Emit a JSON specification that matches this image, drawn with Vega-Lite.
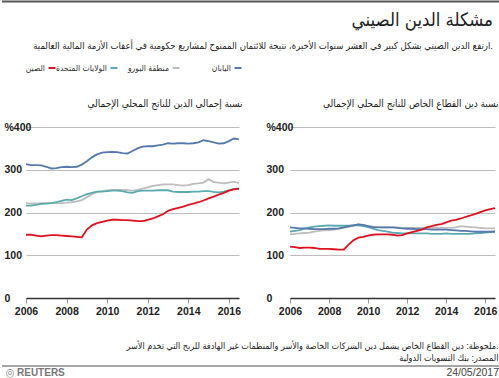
{
"$schema": "https://vega.github.io/schema/vega-lite/v6.json",
"padding": {"left": 0, "right": 0, "top": 0, "bottom": 0},
"background": "white",
"config": {
  "font": "Liberation Sans, DejaVu Sans Condensed, sans-serif",
  "view": {"stroke": null},
  "title": {"color": "#222", "fontWeight": "normal"},
  "axis": {"labelFont": "Liberation Sans, Arial, sans-serif", "labelFontWeight": "bold", "labelFontSize": 10.5, "labelColor": "#222"}
},
"datasets": {
"debt": [
{"p":"a","c":"eu","t":2006,"v":222},{"p":"a","c":"eu","t":2006.25,"v":221},{"p":"a","c":"eu","t":2006.5,"v":221},{"p":"a","c":"eu","t":2006.75,"v":222},
{"p":"a","c":"eu","t":2007,"v":222},{"p":"a","c":"eu","t":2007.25,"v":222},{"p":"a","c":"eu","t":2007.5,"v":222},{"p":"a","c":"eu","t":2007.75,"v":222},
{"p":"a","c":"eu","t":2008,"v":223},{"p":"a","c":"eu","t":2008.25,"v":224},{"p":"a","c":"eu","t":2008.5,"v":226},{"p":"a","c":"eu","t":2008.75,"v":229},
{"p":"a","c":"eu","t":2009,"v":236},{"p":"a","c":"eu","t":2009.25,"v":243},{"p":"a","c":"eu","t":2009.5,"v":248},{"p":"a","c":"eu","t":2009.75,"v":250},
{"p":"a","c":"eu","t":2010,"v":252},{"p":"a","c":"eu","t":2010.25,"v":253},{"p":"a","c":"eu","t":2010.5,"v":253},{"p":"a","c":"eu","t":2010.75,"v":253},
{"p":"a","c":"eu","t":2011,"v":252},{"p":"a","c":"eu","t":2011.25,"v":251},{"p":"a","c":"eu","t":2011.5,"v":253},{"p":"a","c":"eu","t":2011.75,"v":256},
{"p":"a","c":"eu","t":2012,"v":259},{"p":"a","c":"eu","t":2012.25,"v":262},{"p":"a","c":"eu","t":2012.5,"v":264},{"p":"a","c":"eu","t":2012.75,"v":266},
{"p":"a","c":"eu","t":2013,"v":266},{"p":"a","c":"eu","t":2013.25,"v":266},{"p":"a","c":"eu","t":2013.5,"v":264},{"p":"a","c":"eu","t":2013.75,"v":263},
{"p":"a","c":"eu","t":2014,"v":264},{"p":"a","c":"eu","t":2014.25,"v":267},{"p":"a","c":"eu","t":2014.5,"v":268},{"p":"a","c":"eu","t":2014.75,"v":270},
{"p":"a","c":"eu","t":2015,"v":278},{"p":"a","c":"eu","t":2015.25,"v":271},{"p":"a","c":"eu","t":2015.5,"v":270},{"p":"a","c":"eu","t":2015.75,"v":268},
{"p":"a","c":"eu","t":2016,"v":270},{"p":"a","c":"eu","t":2016.25,"v":272},{"p":"a","c":"eu","t":2016.5,"v":269},
{"p":"a","c":"us","t":2006,"v":216},{"p":"a","c":"us","t":2006.25,"v":216},{"p":"a","c":"us","t":2006.5,"v":218},{"p":"a","c":"us","t":2006.75,"v":220},
{"p":"a","c":"us","t":2007,"v":221},{"p":"a","c":"us","t":2007.25,"v":222},{"p":"a","c":"us","t":2007.5,"v":224},{"p":"a","c":"us","t":2007.75,"v":227},
{"p":"a","c":"us","t":2008,"v":230},{"p":"a","c":"us","t":2008.25,"v":229},{"p":"a","c":"us","t":2008.5,"v":233},{"p":"a","c":"us","t":2008.75,"v":238},
{"p":"a","c":"us","t":2009,"v":243},{"p":"a","c":"us","t":2009.25,"v":246},{"p":"a","c":"us","t":2009.5,"v":249},{"p":"a","c":"us","t":2009.75,"v":249},
{"p":"a","c":"us","t":2010,"v":250},{"p":"a","c":"us","t":2010.25,"v":251},{"p":"a","c":"us","t":2010.5,"v":251},{"p":"a","c":"us","t":2010.75,"v":250},
{"p":"a","c":"us","t":2011,"v":247},{"p":"a","c":"us","t":2011.25,"v":246},{"p":"a","c":"us","t":2011.5,"v":250},{"p":"a","c":"us","t":2011.75,"v":251},
{"p":"a","c":"us","t":2012,"v":251},{"p":"a","c":"us","t":2012.25,"v":251},{"p":"a","c":"us","t":2012.5,"v":252},{"p":"a","c":"us","t":2012.75,"v":252},
{"p":"a","c":"us","t":2013,"v":252},{"p":"a","c":"us","t":2013.25,"v":249},{"p":"a","c":"us","t":2013.5,"v":248},{"p":"a","c":"us","t":2013.75,"v":248},
{"p":"a","c":"us","t":2014,"v":248},{"p":"a","c":"us","t":2014.25,"v":249},{"p":"a","c":"us","t":2014.5,"v":249},{"p":"a","c":"us","t":2014.75,"v":250},
{"p":"a","c":"us","t":2015,"v":250},{"p":"a","c":"us","t":2015.25,"v":248},{"p":"a","c":"us","t":2015.5,"v":247},{"p":"a","c":"us","t":2015.75,"v":249},
{"p":"a","c":"us","t":2016,"v":252},{"p":"a","c":"us","t":2016.25,"v":255},{"p":"a","c":"us","t":2016.5,"v":256},
{"p":"a","c":"jp","t":2006,"v":313},{"p":"a","c":"jp","t":2006.25,"v":311},{"p":"a","c":"jp","t":2006.5,"v":311},{"p":"a","c":"jp","t":2006.75,"v":310},
{"p":"a","c":"jp","t":2007,"v":307},{"p":"a","c":"jp","t":2007.25,"v":303},{"p":"a","c":"jp","t":2007.5,"v":304},{"p":"a","c":"jp","t":2007.75,"v":306},
{"p":"a","c":"jp","t":2008,"v":307},{"p":"a","c":"jp","t":2008.25,"v":306},{"p":"a","c":"jp","t":2008.5,"v":307},{"p":"a","c":"jp","t":2008.75,"v":312},
{"p":"a","c":"jp","t":2009,"v":320},{"p":"a","c":"jp","t":2009.25,"v":329},{"p":"a","c":"jp","t":2009.5,"v":336},{"p":"a","c":"jp","t":2009.75,"v":340},
{"p":"a","c":"jp","t":2010,"v":341},{"p":"a","c":"jp","t":2010.25,"v":342},{"p":"a","c":"jp","t":2010.5,"v":341},{"p":"a","c":"jp","t":2010.75,"v":339},
{"p":"a","c":"jp","t":2011,"v":338},{"p":"a","c":"jp","t":2011.25,"v":344},{"p":"a","c":"jp","t":2011.5,"v":350},{"p":"a","c":"jp","t":2011.75,"v":354},
{"p":"a","c":"jp","t":2012,"v":355},{"p":"a","c":"jp","t":2012.25,"v":355},{"p":"a","c":"jp","t":2012.5,"v":357},{"p":"a","c":"jp","t":2012.75,"v":359},
{"p":"a","c":"jp","t":2013,"v":362},{"p":"a","c":"jp","t":2013.25,"v":361},{"p":"a","c":"jp","t":2013.5,"v":362},{"p":"a","c":"jp","t":2013.75,"v":362},
{"p":"a","c":"jp","t":2014,"v":361},{"p":"a","c":"jp","t":2014.25,"v":362},{"p":"a","c":"jp","t":2014.5,"v":364},{"p":"a","c":"jp","t":2014.75,"v":369},
{"p":"a","c":"jp","t":2015,"v":367},{"p":"a","c":"jp","t":2015.25,"v":364},{"p":"a","c":"jp","t":2015.5,"v":361},{"p":"a","c":"jp","t":2015.75,"v":362},
{"p":"a","c":"jp","t":2016,"v":367},{"p":"a","c":"jp","t":2016.25,"v":373},{"p":"a","c":"jp","t":2016.5,"v":371},
{"p":"a","c":"cn","t":2006,"v":148},{"p":"a","c":"cn","t":2006.25,"v":148},{"p":"a","c":"cn","t":2006.5,"v":146},{"p":"a","c":"cn","t":2006.75,"v":144},
{"p":"a","c":"cn","t":2007,"v":146},{"p":"a","c":"cn","t":2007.25,"v":147},{"p":"a","c":"cn","t":2007.5,"v":147},{"p":"a","c":"cn","t":2007.75,"v":146},
{"p":"a","c":"cn","t":2008,"v":145},{"p":"a","c":"cn","t":2008.25,"v":144},{"p":"a","c":"cn","t":2008.5,"v":143},{"p":"a","c":"cn","t":2008.75,"v":142},
{"p":"a","c":"cn","t":2009,"v":160},{"p":"a","c":"cn","t":2009.25,"v":170},{"p":"a","c":"cn","t":2009.5,"v":175},{"p":"a","c":"cn","t":2009.75,"v":178},
{"p":"a","c":"cn","t":2010,"v":181},{"p":"a","c":"cn","t":2010.25,"v":183},{"p":"a","c":"cn","t":2010.5,"v":183},{"p":"a","c":"cn","t":2010.75,"v":182},
{"p":"a","c":"cn","t":2011,"v":182},{"p":"a","c":"cn","t":2011.25,"v":181},{"p":"a","c":"cn","t":2011.5,"v":180},{"p":"a","c":"cn","t":2011.75,"v":180},
{"p":"a","c":"cn","t":2012,"v":183},{"p":"a","c":"cn","t":2012.25,"v":186},{"p":"a","c":"cn","t":2012.5,"v":191},{"p":"a","c":"cn","t":2012.75,"v":196},
{"p":"a","c":"cn","t":2013,"v":204},{"p":"a","c":"cn","t":2013.25,"v":208},{"p":"a","c":"cn","t":2013.5,"v":211},{"p":"a","c":"cn","t":2013.75,"v":214},
{"p":"a","c":"cn","t":2014,"v":218},{"p":"a","c":"cn","t":2014.25,"v":221},{"p":"a","c":"cn","t":2014.5,"v":224},{"p":"a","c":"cn","t":2014.75,"v":228},
{"p":"a","c":"cn","t":2015,"v":233},{"p":"a","c":"cn","t":2015.25,"v":237},{"p":"a","c":"cn","t":2015.5,"v":242},{"p":"a","c":"cn","t":2015.75,"v":246},
{"p":"a","c":"cn","t":2016,"v":251},{"p":"a","c":"cn","t":2016.25,"v":254},{"p":"a","c":"cn","t":2016.5,"v":256},
{"p":"b","c":"eu","t":2006,"v":149},{"p":"b","c":"eu","t":2006.25,"v":150},{"p":"b","c":"eu","t":2006.5,"v":151},{"p":"b","c":"eu","t":2006.75,"v":152},
{"p":"b","c":"eu","t":2007,"v":153},{"p":"b","c":"eu","t":2007.25,"v":155},{"p":"b","c":"eu","t":2007.5,"v":157},{"p":"b","c":"eu","t":2007.75,"v":158},
{"p":"b","c":"eu","t":2008,"v":159},{"p":"b","c":"eu","t":2008.25,"v":160},{"p":"b","c":"eu","t":2008.5,"v":162},{"p":"b","c":"eu","t":2008.75,"v":164},
{"p":"b","c":"eu","t":2009,"v":166},{"p":"b","c":"eu","t":2009.25,"v":169},{"p":"b","c":"eu","t":2009.5,"v":172},{"p":"b","c":"eu","t":2009.75,"v":170},
{"p":"b","c":"eu","t":2010,"v":168},{"p":"b","c":"eu","t":2010.25,"v":167},{"p":"b","c":"eu","t":2010.5,"v":166},{"p":"b","c":"eu","t":2010.75,"v":165},
{"p":"b","c":"eu","t":2011,"v":165},{"p":"b","c":"eu","t":2011.25,"v":165},{"p":"b","c":"eu","t":2011.5,"v":165},{"p":"b","c":"eu","t":2011.75,"v":164},
{"p":"b","c":"eu","t":2012,"v":164},{"p":"b","c":"eu","t":2012.25,"v":164},{"p":"b","c":"eu","t":2012.5,"v":164},{"p":"b","c":"eu","t":2012.75,"v":164},
{"p":"b","c":"eu","t":2013,"v":164},{"p":"b","c":"eu","t":2013.25,"v":164},{"p":"b","c":"eu","t":2013.5,"v":164},{"p":"b","c":"eu","t":2013.75,"v":164},
{"p":"b","c":"eu","t":2014,"v":164},{"p":"b","c":"eu","t":2014.25,"v":164},{"p":"b","c":"eu","t":2014.5,"v":165},{"p":"b","c":"eu","t":2014.75,"v":168},
{"p":"b","c":"eu","t":2015,"v":167},{"p":"b","c":"eu","t":2015.25,"v":166},{"p":"b","c":"eu","t":2015.5,"v":165},{"p":"b","c":"eu","t":2015.75,"v":164},
{"p":"b","c":"eu","t":2016,"v":163},{"p":"b","c":"eu","t":2016.25,"v":163},{"p":"b","c":"eu","t":2016.5,"v":163},
{"p":"b","c":"us","t":2006,"v":155},{"p":"b","c":"us","t":2006.25,"v":157},{"p":"b","c":"us","t":2006.5,"v":159},{"p":"b","c":"us","t":2006.75,"v":162},
{"p":"b","c":"us","t":2007,"v":165},{"p":"b","c":"us","t":2007.25,"v":167},{"p":"b","c":"us","t":2007.5,"v":168},{"p":"b","c":"us","t":2007.75,"v":169},
{"p":"b","c":"us","t":2008,"v":170},{"p":"b","c":"us","t":2008.25,"v":169},{"p":"b","c":"us","t":2008.5,"v":169},{"p":"b","c":"us","t":2008.75,"v":169},
{"p":"b","c":"us","t":2009,"v":169},{"p":"b","c":"us","t":2009.25,"v":170},{"p":"b","c":"us","t":2009.5,"v":170},{"p":"b","c":"us","t":2009.75,"v":168},
{"p":"b","c":"us","t":2010,"v":166},{"p":"b","c":"us","t":2010.25,"v":162},{"p":"b","c":"us","t":2010.5,"v":159},{"p":"b","c":"us","t":2010.75,"v":157},
{"p":"b","c":"us","t":2011,"v":155},{"p":"b","c":"us","t":2011.25,"v":153},{"p":"b","c":"us","t":2011.5,"v":152},{"p":"b","c":"us","t":2011.75,"v":151},
{"p":"b","c":"us","t":2012,"v":151},{"p":"b","c":"us","t":2012.25,"v":151},{"p":"b","c":"us","t":2012.5,"v":151},{"p":"b","c":"us","t":2012.75,"v":151},
{"p":"b","c":"us","t":2013,"v":151},{"p":"b","c":"us","t":2013.25,"v":150},{"p":"b","c":"us","t":2013.5,"v":150},{"p":"b","c":"us","t":2013.75,"v":150},
{"p":"b","c":"us","t":2014,"v":151},{"p":"b","c":"us","t":2014.25,"v":150},{"p":"b","c":"us","t":2014.5,"v":150},{"p":"b","c":"us","t":2014.75,"v":150},
{"p":"b","c":"us","t":2015,"v":150},{"p":"b","c":"us","t":2015.25,"v":150},{"p":"b","c":"us","t":2015.5,"v":151},{"p":"b","c":"us","t":2015.75,"v":152},
{"p":"b","c":"us","t":2016,"v":153},{"p":"b","c":"us","t":2016.25,"v":154},{"p":"b","c":"us","t":2016.5,"v":155},
{"p":"b","c":"jp","t":2006,"v":165},{"p":"b","c":"jp","t":2006.25,"v":164},{"p":"b","c":"jp","t":2006.5,"v":163},{"p":"b","c":"jp","t":2006.75,"v":163},
{"p":"b","c":"jp","t":2007,"v":162},{"p":"b","c":"jp","t":2007.25,"v":161},{"p":"b","c":"jp","t":2007.5,"v":161},{"p":"b","c":"jp","t":2007.75,"v":161},
{"p":"b","c":"jp","t":2008,"v":162},{"p":"b","c":"jp","t":2008.25,"v":162},{"p":"b","c":"jp","t":2008.5,"v":163},{"p":"b","c":"jp","t":2008.75,"v":165},
{"p":"b","c":"jp","t":2009,"v":168},{"p":"b","c":"jp","t":2009.25,"v":170},{"p":"b","c":"jp","t":2009.5,"v":172},{"p":"b","c":"jp","t":2009.75,"v":171},
{"p":"b","c":"jp","t":2010,"v":168},{"p":"b","c":"jp","t":2010.25,"v":166},{"p":"b","c":"jp","t":2010.5,"v":165},{"p":"b","c":"jp","t":2010.75,"v":165},
{"p":"b","c":"jp","t":2011,"v":165},{"p":"b","c":"jp","t":2011.25,"v":165},{"p":"b","c":"jp","t":2011.5,"v":164},{"p":"b","c":"jp","t":2011.75,"v":163},
{"p":"b","c":"jp","t":2012,"v":162},{"p":"b","c":"jp","t":2012.25,"v":162},{"p":"b","c":"jp","t":2012.5,"v":161},{"p":"b","c":"jp","t":2012.75,"v":161},
{"p":"b","c":"jp","t":2013,"v":161},{"p":"b","c":"jp","t":2013.25,"v":160},{"p":"b","c":"jp","t":2013.5,"v":160},{"p":"b","c":"jp","t":2013.75,"v":160},
{"p":"b","c":"jp","t":2014,"v":160},{"p":"b","c":"jp","t":2014.25,"v":159},{"p":"b","c":"jp","t":2014.5,"v":158},{"p":"b","c":"jp","t":2014.75,"v":157},
{"p":"b","c":"jp","t":2015,"v":157},{"p":"b","c":"jp","t":2015.25,"v":156},{"p":"b","c":"jp","t":2015.5,"v":155},{"p":"b","c":"jp","t":2015.75,"v":155},
{"p":"b","c":"jp","t":2016,"v":155},{"p":"b","c":"jp","t":2016.25,"v":155},{"p":"b","c":"jp","t":2016.5,"v":156},
{"p":"b","c":"cn","t":2006,"v":120},{"p":"b","c":"cn","t":2006.25,"v":119},{"p":"b","c":"cn","t":2006.5,"v":117},{"p":"b","c":"cn","t":2006.75,"v":118},
{"p":"b","c":"cn","t":2007,"v":118},{"p":"b","c":"cn","t":2007.25,"v":117},{"p":"b","c":"cn","t":2007.5,"v":115},{"p":"b","c":"cn","t":2007.75,"v":115},
{"p":"b","c":"cn","t":2008,"v":115},{"p":"b","c":"cn","t":2008.25,"v":114},{"p":"b","c":"cn","t":2008.5,"v":113},{"p":"b","c":"cn","t":2008.75,"v":113},
{"p":"b","c":"cn","t":2009,"v":125},{"p":"b","c":"cn","t":2009.25,"v":135},{"p":"b","c":"cn","t":2009.5,"v":141},{"p":"b","c":"cn","t":2009.75,"v":143},
{"p":"b","c":"cn","t":2010,"v":146},{"p":"b","c":"cn","t":2010.25,"v":148},{"p":"b","c":"cn","t":2010.5,"v":149},{"p":"b","c":"cn","t":2010.75,"v":149},
{"p":"b","c":"cn","t":2011,"v":149},{"p":"b","c":"cn","t":2011.25,"v":148},{"p":"b","c":"cn","t":2011.5,"v":146},{"p":"b","c":"cn","t":2011.75,"v":147},
{"p":"b","c":"cn","t":2012,"v":151},{"p":"b","c":"cn","t":2012.25,"v":154},{"p":"b","c":"cn","t":2012.5,"v":157},{"p":"b","c":"cn","t":2012.75,"v":160},
{"p":"b","c":"cn","t":2013,"v":165},{"p":"b","c":"cn","t":2013.25,"v":168},{"p":"b","c":"cn","t":2013.5,"v":171},{"p":"b","c":"cn","t":2013.75,"v":173},
{"p":"b","c":"cn","t":2014,"v":177},{"p":"b","c":"cn","t":2014.25,"v":181},{"p":"b","c":"cn","t":2014.5,"v":183},{"p":"b","c":"cn","t":2014.75,"v":186},
{"p":"b","c":"cn","t":2015,"v":190},{"p":"b","c":"cn","t":2015.25,"v":193},{"p":"b","c":"cn","t":2015.5,"v":197},{"p":"b","c":"cn","t":2015.75,"v":201},
{"p":"b","c":"cn","t":2016,"v":205},{"p":"b","c":"cn","t":2016.25,"v":208},{"p":"b","c":"cn","t":2016.5,"v":210}
]
},
"spacing": 8,
"vconcat": [
  {
    "width": 475, "height": 1,
    "data": {"values": [{"k": 0}]},
    "mark": {"type": "rule", "color": "#555", "strokeWidth": 2},
    "encoding": {
      "x": {"datum": 0, "type": "quantitative", "scale": {"domain": [0.0481, 1], "clamp": false, "zero": false, "nice": false}, "axis": null},
      "x2": {"datum": 1},
      "y": {"datum": 0.5, "type": "quantitative", "scale": {"domain": [0, 1]}, "axis": null}
    }
  },
  {
    "spacing": 25,
    "vconcat": [
      {
        "spacing": 26,
        "vconcat": [
          {
            "width": 475, "height": 8,
            "title": {"text": "مشكلة الدين الصيني", "subtitle": "ارتفع الدين الصيني بشكل كبير في العشر سنوات الأخيرة، نتيجة للائتمان الممنوح لمشاريع حكومية في أعقاب الأزمة المالية العالمية.", "anchor": "end", "dx": -8, "fontSize": 18.5, "subtitleFontSize": 9.5, "subtitleColor": "#222", "subtitlePadding": 11, "offset": 14},
            "data": {"values": [{"c": "cn", "n": "الصين"}, {"c": "us", "n": "الولايات المتحدة"}, {"c": "eu", "n": "منطقة اليورو"}, {"c": "jp", "n": "اليابان"}]},
            "encoding": {
              "x": {"field": "c", "type": "nominal", "sort": null, "scale": {"type": "point", "domain": ["cn", "us", "eu", "jp"], "range": [26, 212], "padding": 0}, "axis": null},
              "color": {"field": "c", "type": "nominal", "scale": {"domain": ["cn", "us", "eu", "jp"], "range": ["#e3101f", "#5aabb0", "#bdbdbd", "#5679ad"]}, "legend": null}
            },
            "layer": [
              {"mark": {"type": "point", "shape": "stroke", "size": 49, "strokeWidth": 2, "filled": false, "opacity": 1}},
              {"mark": {"type": "text", "align": "right", "dx": -7, "fontSize": 8.5}, "encoding": {"text": {"field": "n", "type": "nominal"}, "color": {"value": "#333"}}}
            ]
          },
          {
            "spacing": 23,
            "hconcat": [
              {
                "width": 213, "height": 171,
                "title": {"text": "نسبة إجمالي الدين للناتج المحلي الإجمالي", "anchor": "end", "fontSize": 10, "offset": 13},
                "data": {"name": "debt"},
                "transform": [{"filter": "datum.p == 'a'"}],
                "mark": {"type": "line", "strokeWidth": 1.8},
                "encoding": {
                  "x": {"field": "t", "type": "quantitative", "scale": {"domain": [2006, 2016.5], "nice": false, "zero": false},
                        "axis": {"values": [2006, 2008, 2010, 2012, 2014, 2016], "format": "d", "title": null, "grid": false, "domainColor": "#333", "domainWidth": 1.5, "tickColor": "#999", "tickSize": 5, "labelPadding": 3, "labelFlush": false}},
                  "y": {"field": "v", "type": "quantitative", "scale": {"domain": [0, 400]},
                        "axis": {"values": [0, 100, 200, 300, 400], "labelExpr": "datum.value == 400 ? '%400' : datum.label", "title": null, "domain": false, "ticks": false, "tickSize": 0, "labelAlign": "left", "labelPadding": 22, "grid": true, "gridColor": "#bdbdbd", "labelBaseline": "middle"}},
                  "color": {"field": "c", "type": "nominal", "scale": {"domain": ["cn", "us", "eu", "jp"], "range": ["#e3101f", "#5aabb0", "#bdbdbd", "#5679ad"]}, "legend": null}
                }
              },
              {
                "width": 205, "height": 171,
                "title": {"text": "نسبة دين القطاع الخاص للناتج المحلي الإجمالي", "anchor": "end", "fontSize": 10, "offset": 13},
                "data": {"name": "debt"},
                "transform": [{"filter": "datum.p == 'b'"}],
                "mark": {"type": "line", "strokeWidth": 1.8},
                "encoding": {
                  "x": {"field": "t", "type": "quantitative", "scale": {"domain": [2006, 2016.5], "nice": false, "zero": false},
                        "axis": {"values": [2006, 2008, 2010, 2012, 2014, 2016], "format": "d", "title": null, "grid": false, "domainColor": "#333", "domainWidth": 1.5, "tickColor": "#999", "tickSize": 5, "labelPadding": 3, "labelFlush": false}},
                  "y": {"field": "v", "type": "quantitative", "scale": {"domain": [0, 400]},
                        "axis": {"values": [0, 100, 200, 300, 400], "labelExpr": "datum.value == 400 ? '%400' : datum.label", "title": null, "domain": false, "ticks": false, "tickSize": 0, "labelAlign": "left", "labelPadding": 24, "grid": true, "gridColor": "#bdbdbd", "labelBaseline": "middle"}},
                  "color": {"field": "c", "type": "nominal", "scale": {"domain": ["cn", "us", "eu", "jp"], "range": ["#e3101f", "#5aabb0", "#bdbdbd", "#5679ad"]}, "legend": null}
                }
              }
            ]
          }
        ]
      },
      {
        "width": 475, "height": 13,
        "title": {"text": ["ملحوظة: دين القطاع الخاص يشمل دين الشركات الخاصة والأسر والمنظمات غير الهادفة للربح التي تخدم الأسر.", "المصدر:  بنك التسويات الدولية"], "anchor": "end", "frame": "bounds", "dx": -3, "fontSize": 9, "lineHeight": 11.5, "offset": 3, "color": "#222"},
        "data": {"values": [{"pos": 0, "label": "REUTERS"}, {"pos": 1, "label": "24/05/2017"}]},
        "layer": [
          {
            "mark": {"type": "rule", "color": "#888", "strokeWidth": 1},
            "encoding": {
              "x": {"datum": 0, "type": "quantitative", "scale": {"domain": [0.0481, 1], "clamp": false, "zero": false, "nice": false}, "axis": null},
              "x2": {"datum": 1},
              "y": {"datum": 1, "type": "quantitative", "scale": {"domain": [0, 1]}, "axis": null}
            }
          },
          {
            "transform": [{"filter": "datum.pos == 0"}],
            "mark": {"type": "text", "align": "center", "dx": 8, "fontSize": 11, "color": "#888"},
            "encoding": {
              "x": {"field": "pos", "type": "quantitative"},
              "y": {"datum": 0.5, "type": "quantitative"},
              "text": {"value": "◎"}
            }
          },
          {
            "transform": [{"filter": "datum.pos == 0"}],
            "mark": {"type": "text", "align": "left", "dx": 15, "fontSize": 10, "fontWeight": "bold", "color": "#777"},
            "encoding": {
              "x": {"field": "pos", "type": "quantitative"},
              "y": {"datum": 0.5, "type": "quantitative"},
              "text": {"field": "label", "type": "nominal"}
            }
          },
          {
            "transform": [{"filter": "datum.pos == 1"}],
            "mark": {"type": "text", "align": "right", "dx": -2, "fontSize": 10.5, "color": "#444"},
            "encoding": {
              "x": {"field": "pos", "type": "quantitative"},
              "y": {"datum": 0.5, "type": "quantitative"},
              "text": {"field": "label", "type": "nominal"}
            }
          }
        ]
      }
    ]
  }
]
}
